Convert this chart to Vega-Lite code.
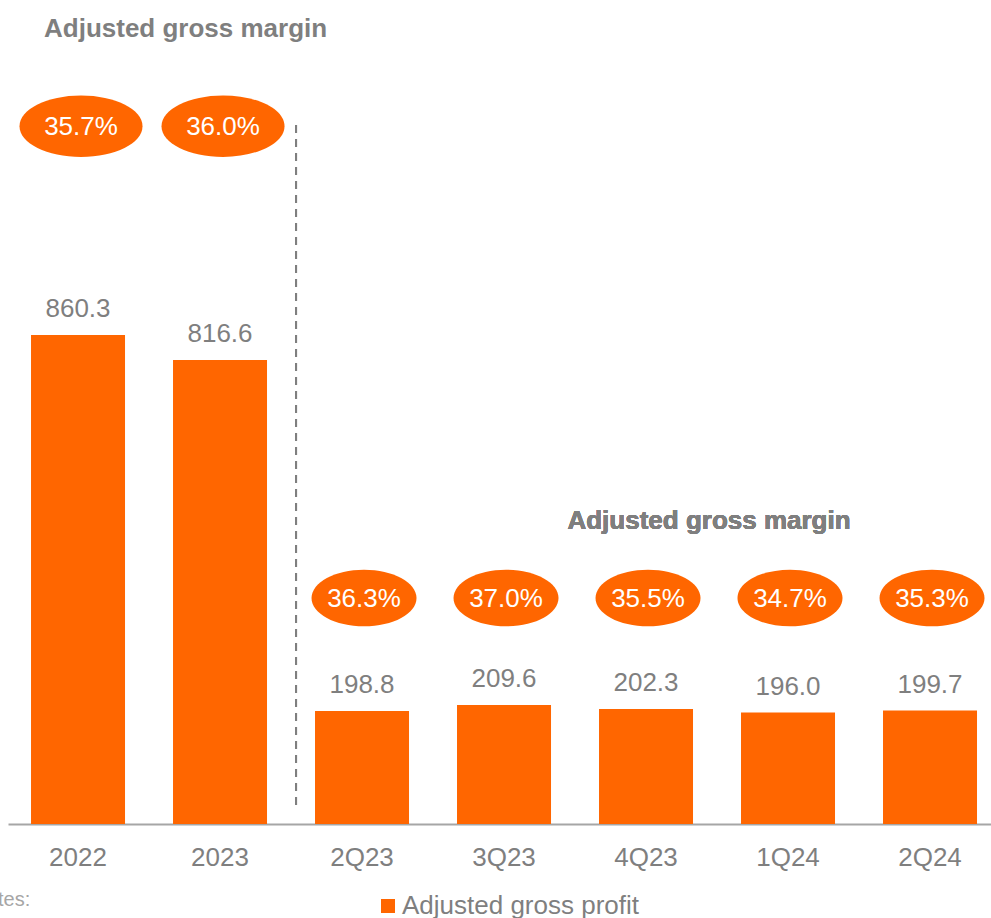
{
  "$schema": "https://vega.github.io/schema/vega-lite/v6.json",
  "width": 983,
  "height": 774,
  "autosize": {"type": "none"},
  "padding": {"top": 50, "left": 8, "right": 0, "bottom": 94},
  "background": "white",
  "title": {
    "text": "Adjusted gross margin",
    "anchor": "start",
    "frame": "group",
    "dx": 36,
    "offset": -13,
    "baseline": "alphabetic",
    "fontSize": 26,
    "fontWeight": "bold",
    "color": "#7f7f7f",
    "font": "Liberation Sans"
  },
  "data": {
    "values": [
      {"period": "2022", "value": 860.3, "margin": "35.7%", "group": "annual", "series": "Adjusted gross profit"},
      {"period": "2023", "value": 816.6, "margin": "36.0%", "group": "annual", "series": "Adjusted gross profit"},
      {"period": "2Q23", "value": 198.8, "margin": "36.3%", "group": "quarterly", "series": "Adjusted gross profit"},
      {"period": "3Q23", "value": 209.6, "margin": "37.0%", "group": "quarterly", "series": "Adjusted gross profit"},
      {"period": "4Q23", "value": 202.3, "margin": "35.5%", "group": "quarterly", "series": "Adjusted gross profit"},
      {"period": "1Q24", "value": 196.0, "margin": "34.7%", "group": "quarterly", "series": "Adjusted gross profit"},
      {"period": "2Q24", "value": 199.7, "margin": "35.3%", "group": "quarterly", "series": "Adjusted gross profit"}
    ]
  },
  "encoding": {
    "x": {
      "field": "period",
      "type": "nominal",
      "sort": null,
      "scale": {"paddingInner": 0.338, "paddingOuter": 0.1303, "align": 0.622},
      "axis": {
        "title": "Notes:",
        "titleX": -36,
        "titleY": 81,
        "titleAlign": "left",
        "titleAnchor": "start",
        "titleBaseline": "alphabetic",
        "titleFontSize": 20,
        "titleFontWeight": "normal",
        "titleColor": "#a6a6a6",
        "titleFont": "Liberation Sans",
        "labelAngle": 0,
        "labelFontSize": 26,
        "labelColor": "#7f7f7f",
        "labelFont": "Liberation Sans",
        "labelPadding": 20,
        "ticks": false,
        "domainColor": "#a6a6a6",
        "domainWidth": 2,
        "grid": false
      }
    }
  },
  "layer": [
    {
      "mark": {"type": "bar", "color": "#ff6600"},
      "encoding": {
        "y": {"field": "value", "type": "quantitative", "scale": {"domain": [0, 1362], "nice": false}, "axis": null},
        "color": {
          "field": "series",
          "type": "nominal",
          "scale": {"range": ["#ff6600"]},
          "legend": {
            "title": null,
            "orient": "none",
            "legendX": 367,
            "legendY": 843,
            "symbolType": "square",
            "symbolSize": 196,
            "symbolStrokeWidth": 0,
            "labelFontSize": 26,
            "labelColor": "#7f7f7f",
            "labelFont": "Liberation Sans",
            "labelOffset": 1,
            "labelLimit": 0,
            "padding": 0
          }
        }
      }
    },
    {
      "mark": {"type": "text", "baseline": "alphabetic", "dy": -18, "fontSize": 26, "color": "#7f7f7f", "font": "Liberation Sans"},
      "encoding": {
        "y": {"field": "value", "type": "quantitative"},
        "text": {"field": "value", "type": "quantitative", "format": ".1f"}
      }
    },
    {
      "transform": [{"filter": "datum.group === 'annual'"}],
      "mark": {"type": "point", "filled": true, "opacity": 1, "color": "#ff6600", "strokeWidth": 0, "size": 15129, "xOffset": 3, "shape": "M-1,0A1,0.5,0,1,0,1,0A1,0.5,0,1,0,-1,0Z"},
      "encoding": {"y": {"datum": 1228, "type": "quantitative"}}
    },
    {
      "transform": [{"filter": "datum.group === 'quarterly'"}],
      "mark": {"type": "point", "filled": true, "opacity": 1, "color": "#ff6600", "strokeWidth": 0, "size": 11025, "xOffset": 2, "shape": "M-1,0A1,0.54,0,1,0,1,0A1,0.54,0,1,0,-1,0Z"},
      "encoding": {"y": {"datum": 397.7, "type": "quantitative"}}
    },
    {
      "transform": [{"filter": "datum.group === 'annual'"}],
      "mark": {"type": "text", "baseline": "middle", "dy": 1, "dx": 3, "fontSize": 26, "color": "white", "font": "Liberation Sans"},
      "encoding": {
        "y": {"datum": 1228, "type": "quantitative"},
        "text": {"field": "margin", "type": "nominal"}
      }
    },
    {
      "transform": [{"filter": "datum.group === 'quarterly'"}],
      "mark": {"type": "text", "baseline": "middle", "dy": 1, "dx": 2, "fontSize": 26, "color": "white", "font": "Liberation Sans"},
      "encoding": {
        "y": {"datum": 397.7, "type": "quantitative"},
        "text": {"field": "margin", "type": "nominal"}
      }
    },
    {
      "mark": {"type": "rule", "color": "#7f7f7f", "strokeWidth": 2, "strokeDash": [8, 6], "xOffset": 76},
      "encoding": {
        "x": {"datum": "2023"},
        "y": {"datum": 1230, "type": "quantitative"},
        "y2": {"datum": 33}
      }
    },
    {
      "mark": {"type": "text", "baseline": "alphabetic", "align": "center", "dx": 63, "fontSize": 26, "fontWeight": "bold", "color": "#7f7f7f", "font": "Liberation Sans"},
      "encoding": {
        "x": {"datum": "4Q23"},
        "y": {"datum": 519, "type": "quantitative"},
        "text": {"value": "Adjusted gross margin"}
      }
    }
  ],
  "config": {
    "view": {"stroke": null},
    "font": "Liberation Sans"
  }
}
